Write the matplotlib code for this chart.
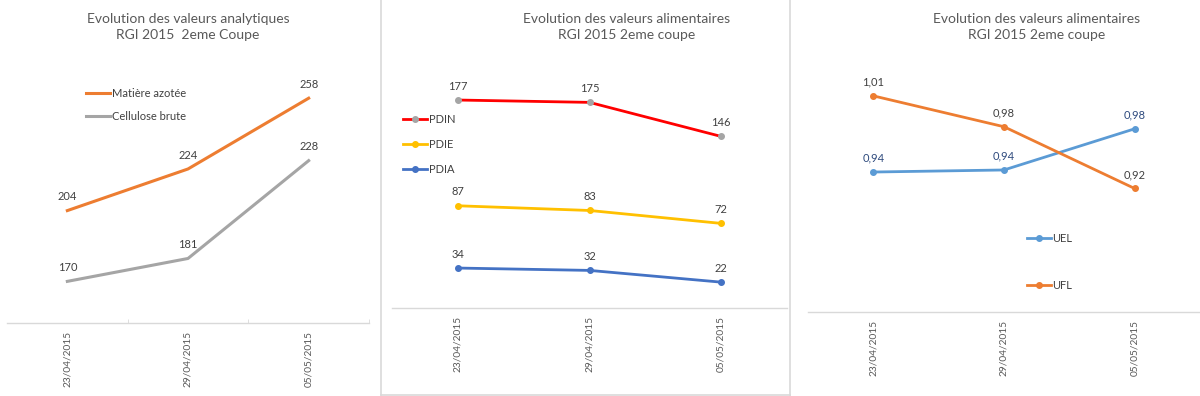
import matplotlib
matplotlib.use("Agg")
import matplotlib.pyplot as plt
from matplotlib.lines import Line2D

plt.rcParams["font.family"] = ["Lato", "DejaVu Sans"]

# ---------- data ----------
dates = ["23/04/2015", "29/04/2015", "05/05/2015"]

matiere_azotee = [204, 224, 258]
cellulose_brute = [170, 181, 228]

pdin = [177, 175, 146]
pdie = [87, 83, 72]
pdia = [34, 32, 22]

uel = [0.936, 0.938, 0.978]
ufl = [1.01, 0.98, 0.92]

# ---------- style ----------
W, H = 1200, 396
TITLE_C = "#595959"
LABEL_C = "#404040"
AXIS_C = "#D9D9D9"
ORANGE, GREY, RED, YELLOW, BLUE, LBLUE = "#ED7D31", "#A5A5A5", "#FF0000", "#FFC000", "#4472C4", "#5B9BD5"

fig = plt.figure(figsize=(W / 100, H / 100), dpi=100)


def px_axes(left, right, top, bottom):
    return fig.add_axes([left / W, 1 - bottom / H, (right - left) / W, (bottom - top) / H])


def style(ax, ylim):
    ax.set_xlim(-0.5, len(dates) - 0.5)
    ax.set_ylim(*ylim)
    for s in ("top", "right", "left"):
        ax.spines[s].set_visible(False)
    ax.spines["bottom"].set_color(AXIS_C)
    ax.spines["bottom"].set_linewidth(1)
    ax.set_yticks([])
    ax.set_xticks(range(len(dates)))
    ax.set_xticklabels(dates, rotation=90, fontsize=7.3, color=TITLE_C)
    ax.tick_params(axis="x", length=0, pad=6)
    ax.patch.set_alpha(0)


def labels(ax, values, fmt, color=LABEL_C, off=6):
    for i, v in enumerate(values):
        ax.annotate(fmt(v), (i, v), xytext=(0, off), textcoords="offset points",
                    ha="center", va="bottom", fontsize=8, color=color)


def legend(ax, x, y, spacing):
    ax.legend(loc="upper left", bbox_to_anchor=(x / W, 1 - y / H), bbox_transform=fig.transFigure,
              frameon=False, fontsize=8, handlelength=2.2, handletextpad=0.1,
              labelspacing=spacing, borderpad=0, borderaxespad=0, labelcolor=LABEL_C)


def title(xc, text):
    fig.text(xc / W, 1 - 27 / H, text, ha="center", va="center",
             fontsize=10, color=TITLE_C, linespacing=1.45)


x = range(len(dates))

# ---------- panel 1 ----------
ax1 = px_axes(7, 369, 52.4, 323)
ax1.plot(x, matiere_azotee, color=ORANGE, lw=2.2, label="Matière azotée")
ax1.plot(x, cellulose_brute, color=GREY, lw=2.2, label="Cellulose brute")
style(ax1, (150, 280))
ax1.set_xticks([0.5, 1.5, 2.5], minor=True)
ax1.tick_params(axis="x", which="minor", direction="in", length=3, color=AXIS_C)
labels(ax1, matiere_azotee, lambda v: f"{v}")
labels(ax1, cellulose_brute, lambda v: f"{v}")
legend(ax1, 86, 88, 1.05)
title(188, "Evolution des valeurs analytiques\nRGI 2015  2eme Coupe")

# ---------- panel 2 ----------
ax2 = px_axes(392, 787, 73, 308)
ax2.plot(x, pdin, color=RED, lw=2, marker="o", ms=4, mfc=GREY, mec=GREY, label="PDIN")
ax2.plot(x, pdie, color=YELLOW, lw=2, marker="o", ms=4, label="PDIE")
ax2.plot(x, pdia, color=BLUE, lw=2, marker="o", ms=4, label="PDIA")
style(ax2, (0, 200))
for s in (pdin, pdie, pdia):
    labels(ax2, s, lambda v: f"{v}")
legend(ax2, 403, 114, 1.25)
title(627, "Evolution des valeurs alimentaires\nRGI 2015 2eme coupe")

# ---------- panel 3 ----------
ax3 = px_axes(808, 1200, 54.7, 312)
ax3.plot(x, uel, color=LBLUE, lw=2, marker="o", ms=4, label="UEL")
ax3.plot(x, ufl, color=ORANGE, lw=2, marker="o", ms=4, label="UFL")
style(ax3, (0.8, 1.05))
labels(ax3, uel, lambda v: f"{v:.2f}".replace(".", ","), color="#2E4A7D")
labels(ax3, ufl, lambda v: f"{v:.2f}".replace(".", ","))
legend(ax3, 1027, 233, 3.2)
title(1037, "Evolution des valeurs alimentaires\nRGI 2015 2eme coupe")

# ---------- panel borders ----------
for xs, ys in (([381, 381], [0, 395]), ([381, 790], [394.5, 394.5]), ([790.5, 790.5], [0, 396])):
    fig.add_artist(Line2D([v / W for v in xs], [1 - v / H for v in ys], color=AXIS_C, lw=1.2))

fig.savefig("out.png", dpi=100, facecolor="white")
